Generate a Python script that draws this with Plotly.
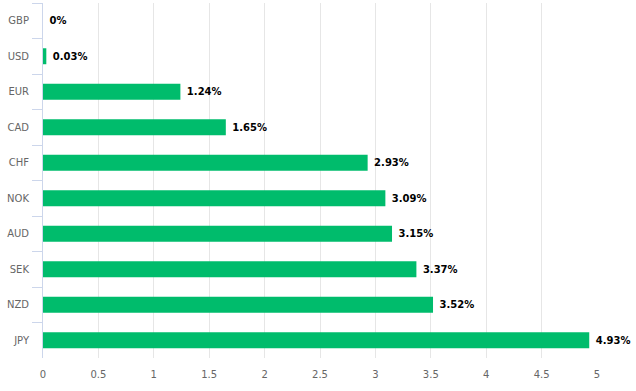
import plotly.graph_objects as go

currencies = ["GBP", "USD", "EUR", "CAD", "CHF", "NOK", "AUD", "SEK", "NZD", "JPY"]
values = [0, 0.03, 1.24, 1.65, 2.93, 3.09, 3.15, 3.37, 3.52, 4.93]
labels = ["0%", "0.03%", "1.24%", "1.65%", "2.93%", "3.09%", "3.15%", "3.37%", "3.52%", "4.93%"]
x_ticks = [0, 0.5, 1, 1.5, 2, 2.5, 3, 3.5, 4, 4.5, 5]

fig = go.Figure(go.Bar(
    x=values, y=currencies, orientation="h",
    marker=dict(color="#00bc6c", line=dict(width=0)),
    text=["\u00a0" + s for s in labels], textposition="outside", cliponaxis=False,
    textfont=dict(family="DejaVu Sans", size=10, color="#000000", weight="bold"),
    hoverinfo="skip",
))

fig.update_layout(
    width=636, height=391,
    margin=dict(l=43, r=39, t=3, b=33),
    paper_bgcolor="white", plot_bgcolor="white",
    bargap=0.55, showlegend=False,
    font=dict(family="DejaVu Sans", size=10, color="#666666"),
)
fig.update_xaxes(
    range=[0, 5], tickvals=x_ticks, ticktext=[str(t) for t in x_ticks],
    showgrid=True, gridcolor="#e6e6e6", gridwidth=1, zeroline=False,
    showline=False, ticks="", tickfont=dict(size=10, color="#666666"),
    automargin=False, ticklabelstandoff=9,
)
fig.update_yaxes(
    autorange="reversed", categoryorder="array", categoryarray=currencies,
    showgrid=False, zeroline=False, showline=True, linecolor="#ccd6eb", linewidth=1,
    ticks="outside", tickson="boundaries", ticklen=10, tickcolor="#ccd6eb",
    tickfont=dict(size=10, color="#666666"), automargin=False, ticklabelstandoff=11,
)

fig.write_html(
    "out.html",
    config={"displayModeBar": False},
    post_script="document.body.style.margin='0';document.body.style.overflow='hidden';",
)
